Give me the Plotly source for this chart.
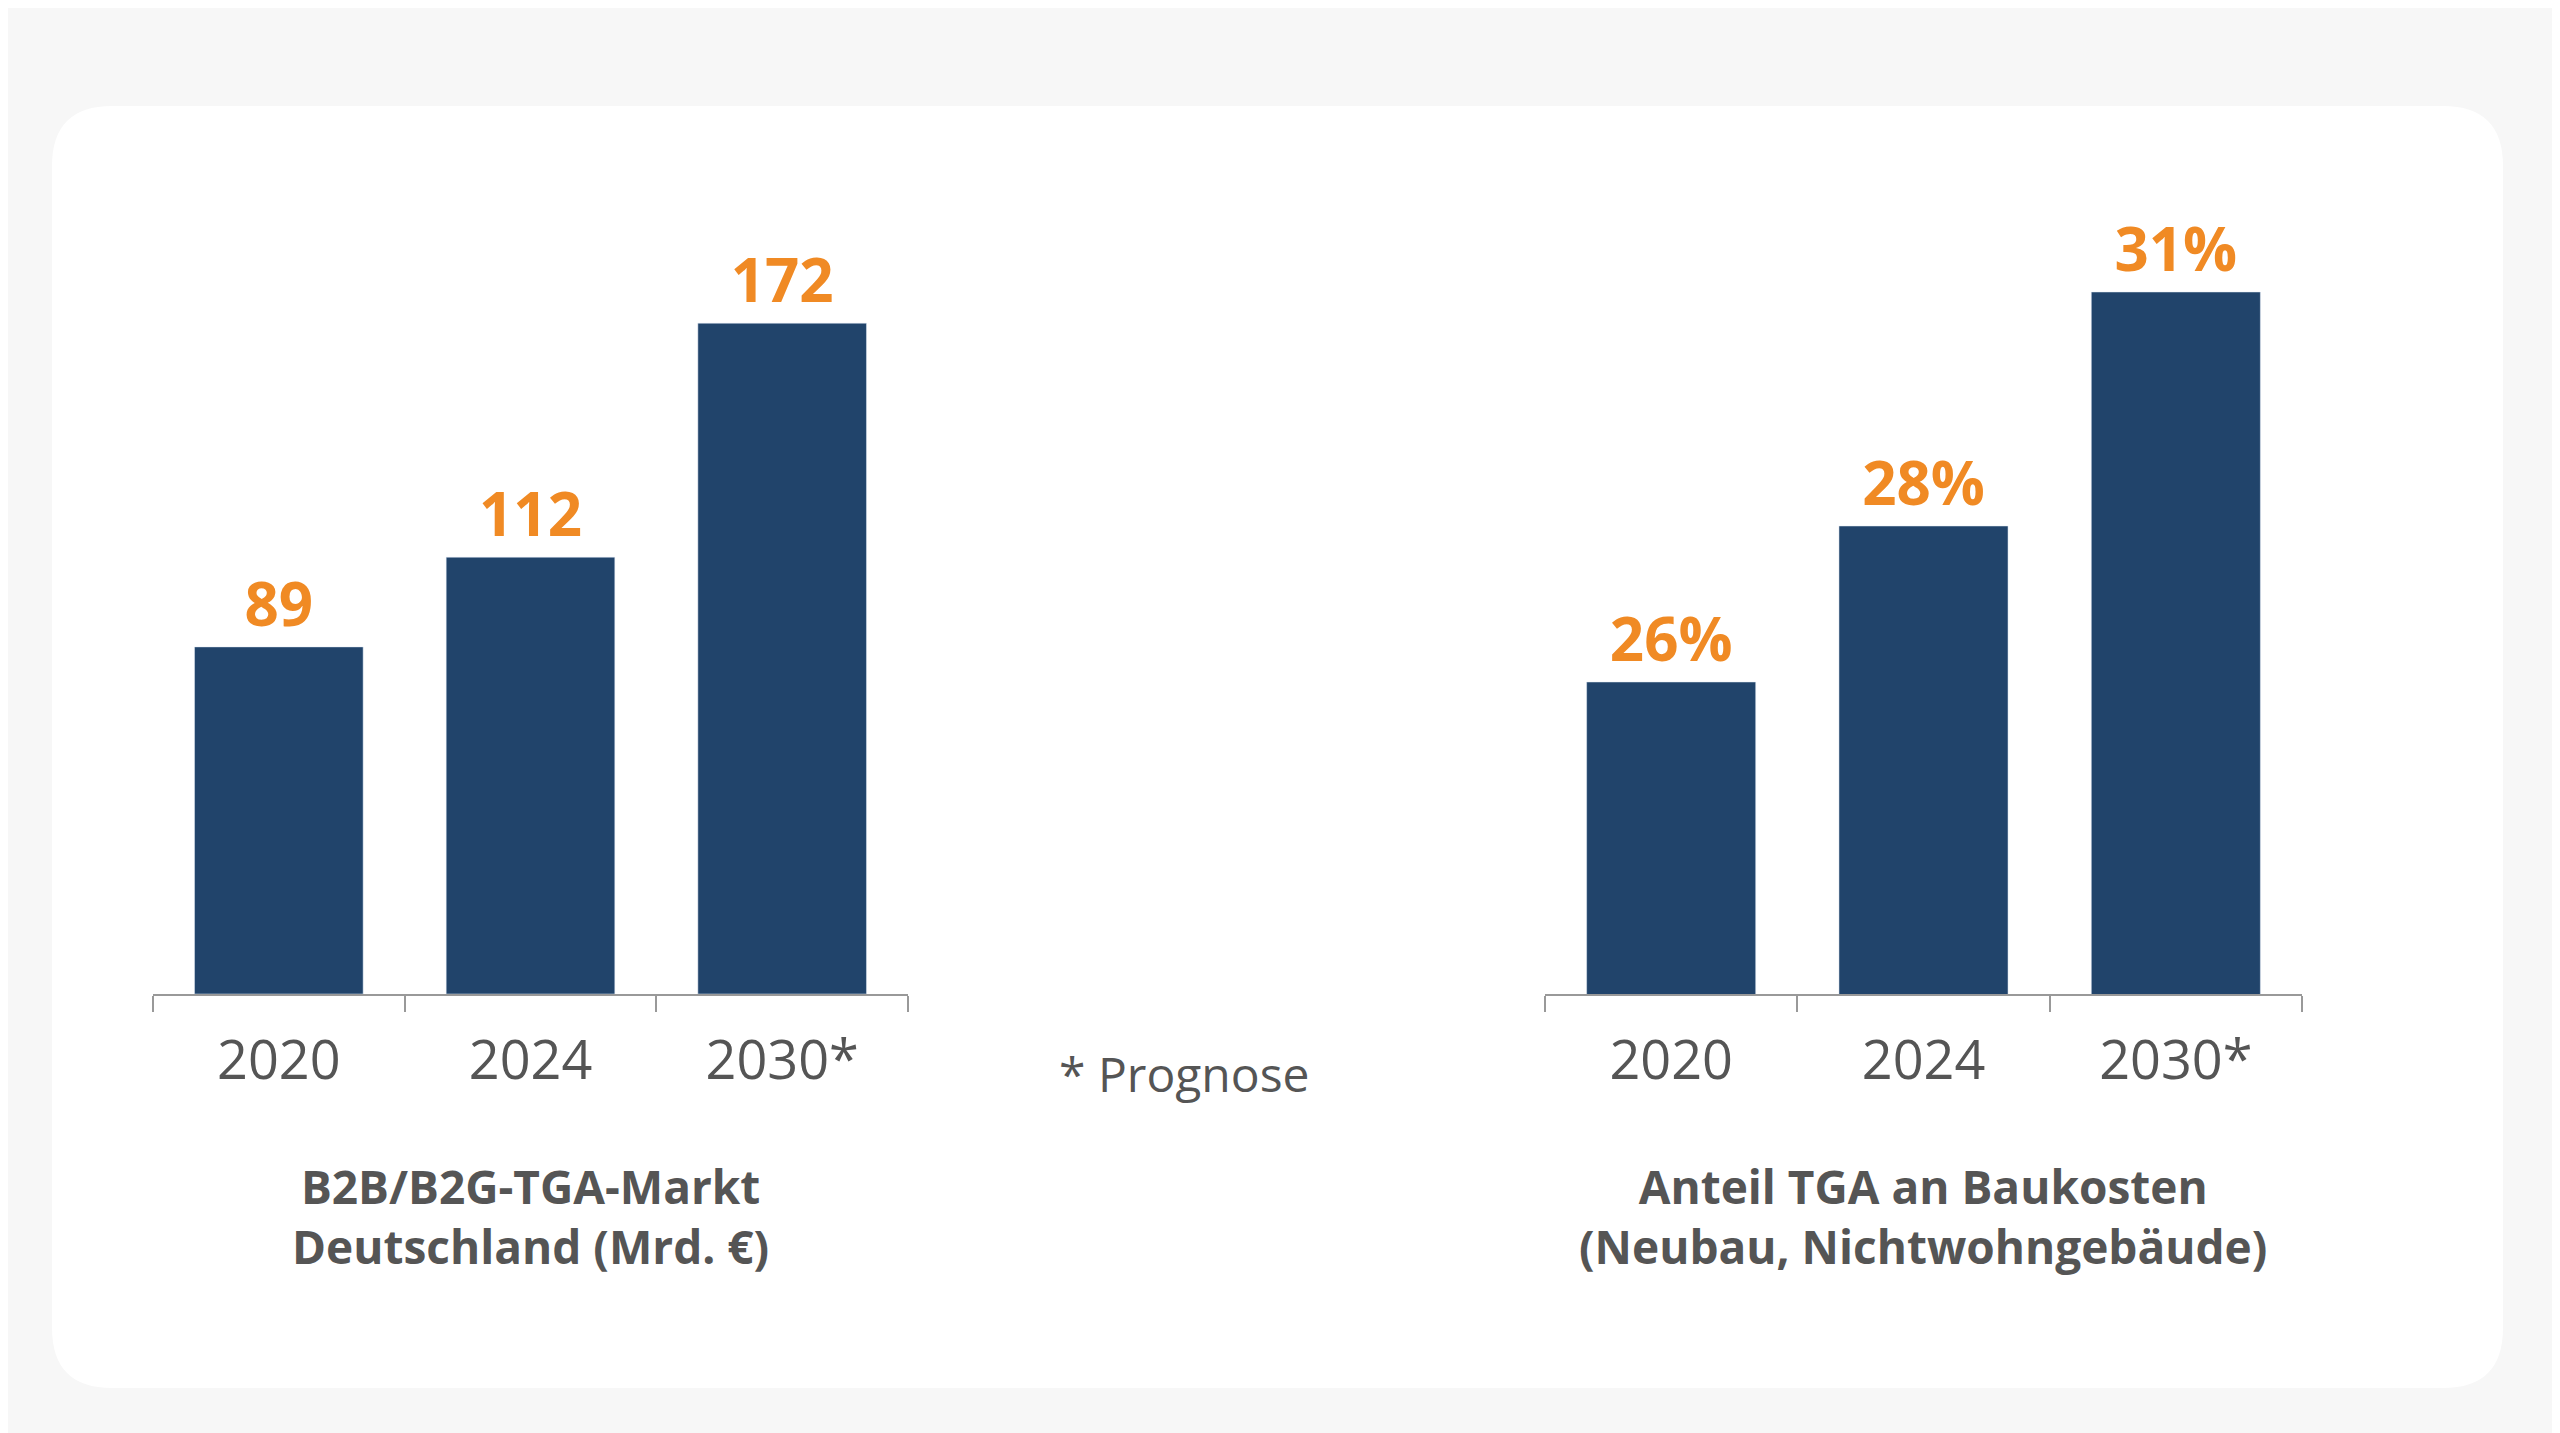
import plotly.graph_objects as go

W, H = 2560, 1433

years = ["2020", "2024", "2030*"]
markt_values = [89, 112, 172]
markt_labels = ["89", "112", "172"]
anteil_values = [26, 28, 31]
anteil_labels = ["26%", "28%", "31%"]

BAR = "#21446B"
ORANGE = "#F08A24"
GREY = "#555555"
FONT = "Open Sans"


def px(x):
    return x / W


def py(y):
    return 1 - y / H


fig = go.Figure()

fig.add_trace(go.Bar(x=[0, 1, 2], y=markt_values, text=markt_labels,
                     marker_color=BAR, xaxis="x", yaxis="y"))
fig.add_trace(go.Bar(x=[0, 1, 2], y=anteil_values, text=anteil_labels,
                     marker_color=BAR, xaxis="x2", yaxis="y2"))

fig.update_traces(textposition="outside", cliponaxis=False,
                  textfont=dict(family=FONT, size=60, color=ORANGE, weight="bold"),
                  width=0.67)

xaxis_common = dict(range=[-0.5, 2.5], tickvals=[0, 1, 2], ticktext=years,
                    ticks="", showgrid=False, zeroline=False, showline=True,
                    linecolor="#999999", linewidth=2, ticklabelstandoff=18,
                    tickfont=dict(family=FONT, size=54, color=GREY),
                    minor=dict(tickvals=[-0.5, 0.5, 1.5, 2.5], ticks="outside",
                               ticklen=16, tickcolor="#999999", tickwidth=2))

# card background (rounded)
x0, x1, y0, y1 = px(44), px(2495), py(1380), py(98)
rx, ry = 60 / W, 60 / H
card = (f"M {x0+rx},{y0} L {x1-rx},{y0} Q {x1},{y0} {x1},{y0+ry} "
        f"L {x1},{y1-ry} Q {x1},{y1} {x1-rx},{y1} L {x0+rx},{y1} "
        f"Q {x0},{y1} {x0},{y1-ry} L {x0},{y0+ry} Q {x0},{y0} {x0+rx},{y0} Z")

fig.update_layout(
    width=W, height=H, margin=dict(l=0, r=0, t=0, b=0),
    paper_bgcolor="#F7F7F7", plot_bgcolor="rgba(0,0,0,0)",
    showlegend=False, bargap=0.33,
    xaxis=dict(domain=[px(145), px(900)], anchor="y", **xaxis_common),
    yaxis=dict(domain=[py(986), py(206)], range=[0, 200], visible=False),
    xaxis2=dict(domain=[px(1537), px(2294)], anchor="y2", **xaxis_common),
    yaxis2=dict(domain=[py(986), py(128)], range=[22, 33], visible=False),
    shapes=[dict(type="path", path=card, xref="paper", yref="paper",
                 fillcolor="white", line=dict(width=0), layer="below")],
    annotations=[
        dict(text="B2B/B2G-TGA-Markt<br>Deutschland (Mrd. €)", x=px(522), y=py(1208),
             xref="paper", yref="paper", showarrow=False, xanchor="center",
             font=dict(family=FONT, size=46, color=GREY, weight="bold"),
             align="center", yanchor="middle"),
        dict(text="Anteil TGA an Baukosten<br>(Neubau, Nichtwohngebäude)", x=px(1915), y=py(1208),
             xref="paper", yref="paper", showarrow=False, xanchor="center",
             font=dict(family=FONT, size=46, color=GREY, weight="bold"),
             align="center", yanchor="middle"),
        dict(text="* Prognose", x=px(1176), y=py(1065), xref="paper", yref="paper",
             showarrow=False, xanchor="center", yanchor="middle",
             font=dict(family=FONT, size=48, color=GREY)),
    ],
)

fig.write_html("out.html")
